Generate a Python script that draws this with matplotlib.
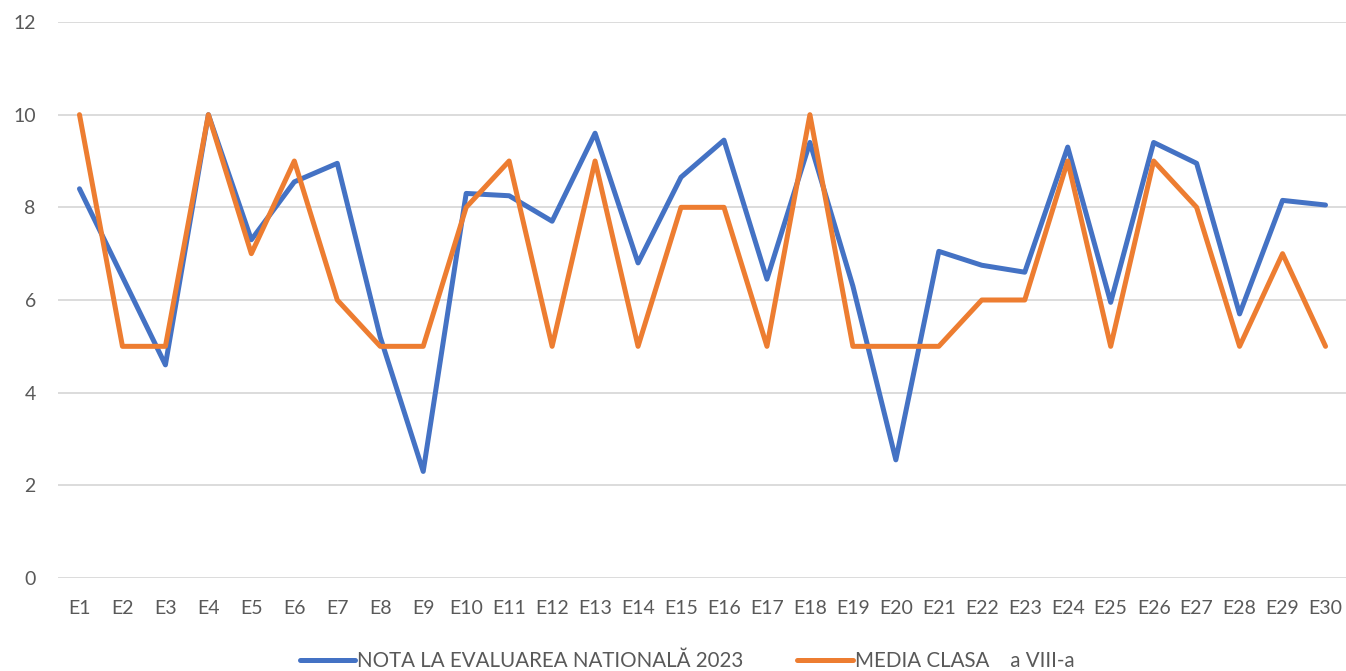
import matplotlib.pyplot as plt

labels = [f"E{i}" for i in range(1, 31)]
nota_en = [8.4, 6.5, 4.6, 10, 7.3, 8.55, 8.95, 5.2, 2.3, 8.3,
           8.25, 7.7, 9.6, 6.8, 8.65, 9.45, 6.45, 9.4, 6.3, 2.55,
           7.05, 6.75, 6.6, 9.3, 5.95, 9.4, 8.95, 5.7, 8.15, 8.05]
media_clasa = [10, 5, 5, 10, 7, 9, 6, 5, 5, 8,
               9, 5, 9, 5, 8, 8, 5, 10, 5, 5,
               5, 6, 6, 9, 5, 9, 8, 5, 7, 5]

plt.rcParams['font.family'] = ['Lato', 'DejaVu Sans']

fig = plt.figure(figsize=(13.46, 6.71), dpi=100)
ax = fig.add_axes([58 / 1346, 1 - 578 / 671, 1289 / 1346, 556 / 671])

x = range(len(labels))
ax.plot(x, nota_en, color='#4472C4', lw=3.6, solid_joinstyle='round',
        solid_capstyle='round', label='NOTA LA EVALUAREA NATIONALĂ 2023')
ax.plot(x, media_clasa, color='#ED7D31', lw=3.6, solid_joinstyle='round',
        solid_capstyle='round', label='MEDIA CLASA    a VIII-a')

ax.set_xlim(-0.5, len(labels) - 0.5)
ax.set_ylim(0, 12)
ax.set_yticks(range(0, 13, 2))
ax.set_xticks(list(x))
ax.set_xticklabels(labels)
ax.grid(axis='y', color='#D9D9D9', lw=1.3)
ax.set_axisbelow(True)
for s in ax.spines.values():
    s.set_visible(False)
ax.tick_params(length=0, labelsize=14, colors='#595959', pad=16)
ax.tick_params(axis='y', pad=16)

fig.legend(loc='center', bbox_to_anchor=(687 / 1346, 1 - 661 / 671), ncol=2,
           frameon=False, fontsize=14.8, labelcolor='#595959',
           handlelength=2.7, handletextpad=0.1, columnspacing=2.6)

fig.savefig('out.png', dpi=100)
